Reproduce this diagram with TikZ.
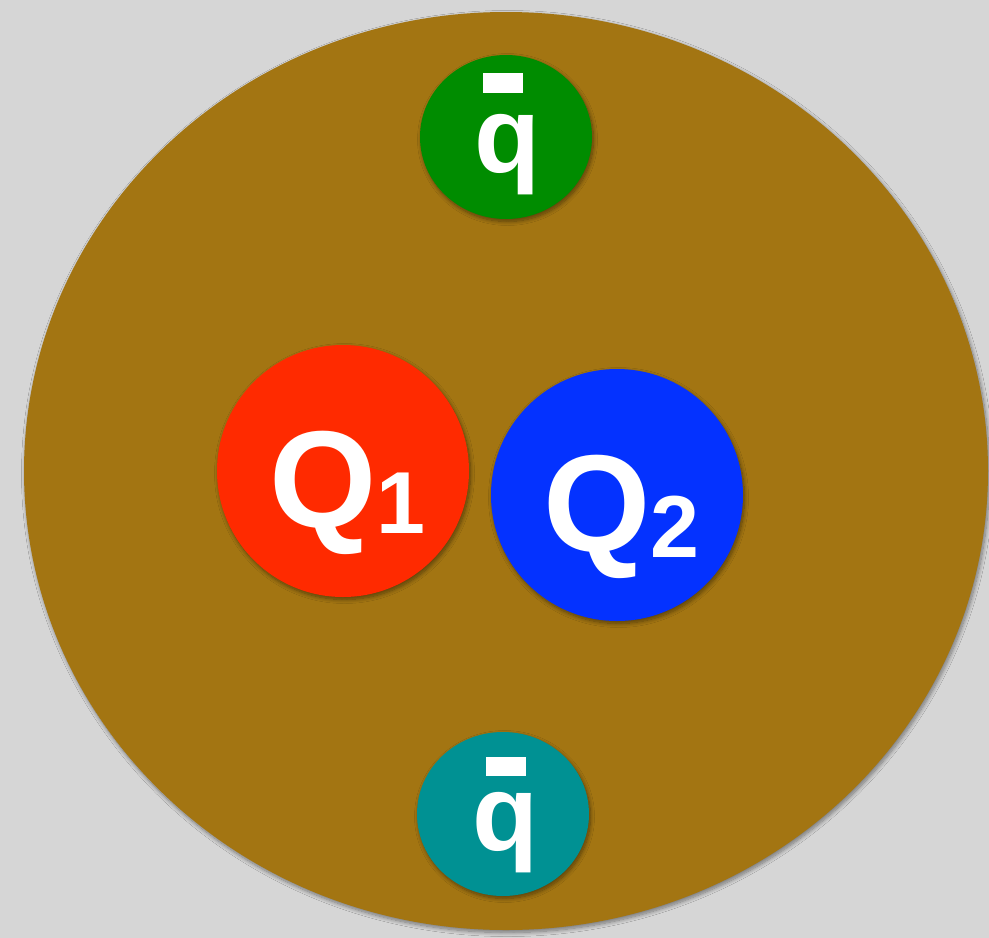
\documentclass[tikz,border=0pt]{standalone}
\usepackage{fontspec}
\setmainfont{Liberation Sans}
\usetikzlibrary{shapes.geometric,shadows.blur}
\definecolor{bgc}{HTML}{D6D6D6}
\definecolor{brownc}{HTML}{A37512}
\definecolor{greenc}{HTML}{008C00}
\definecolor{redc}{HTML}{FF2A00}
\definecolor{bluec}{HTML}{0432FF}
\definecolor{tealc}{HTML}{009193}
\tikzset{
  shad/.style={blur shadow={shadow xshift=1.5pt, shadow yshift=-2.5pt, shadow blur radius=4pt, shadow opacity=45, shadow blur steps=10}},
  ball/.style={circle, inner sep=0pt, minimum size=252pt, draw=none, shad},
  small/.style={ellipse, inner sep=0pt, minimum width=172pt, minimum height=164pt, draw=none, shad},
  lbl/.style={inner sep=0pt, outer sep=0pt, text=white, font=\bfseries, anchor=base west},
  barbox/.style={fill=white, draw=none}
}
\begin{document}
\begin{tikzpicture}[x=1pt,y=-1pt]
\useasboundingbox (0,0) rectangle (989,938);
\fill[bgc] (0,0) rectangle (989,938);
\node[ellipse, inner sep=0pt, minimum width=964pt, minimum height=918pt, fill=brownc, shad] (big) at (506,471) {};
% small quarks
\node[small, fill=greenc] (qg) at (506,137) {};
\node[small, fill=tealc] (qt) at (503,814) {};
% heavy quarks
\node[ball, fill=redc] (Q1) at (343,471) {};
\node[ball, fill=bluec] (Q2) at (617,495) {};
% labels
\node[lbl] (tQ1) at (269,527) {\fontsize{138}{138}\selectfont Q\kern0pt\raisebox{-6pt}{\fontsize{88}{88}\selectfont 1}};
\node[lbl] (tQ2) at (543,551) {\fontsize{138}{138}\selectfont Q\kern0pt\raisebox{-6pt}{\fontsize{88}{88}\selectfont 2}};
\node[lbl] (tqg) at (474,172) {\fontsize{108}{108}\selectfont q};
\node[lbl] (tqt) at (472,850) {\fontsize{108}{108}\selectfont q};
\path[barbox] (483,73) rectangle (523,93) coordinate (bg);
\path[barbox] (486,757) rectangle (526,776) coordinate (bt);
\end{tikzpicture}
\end{document}
